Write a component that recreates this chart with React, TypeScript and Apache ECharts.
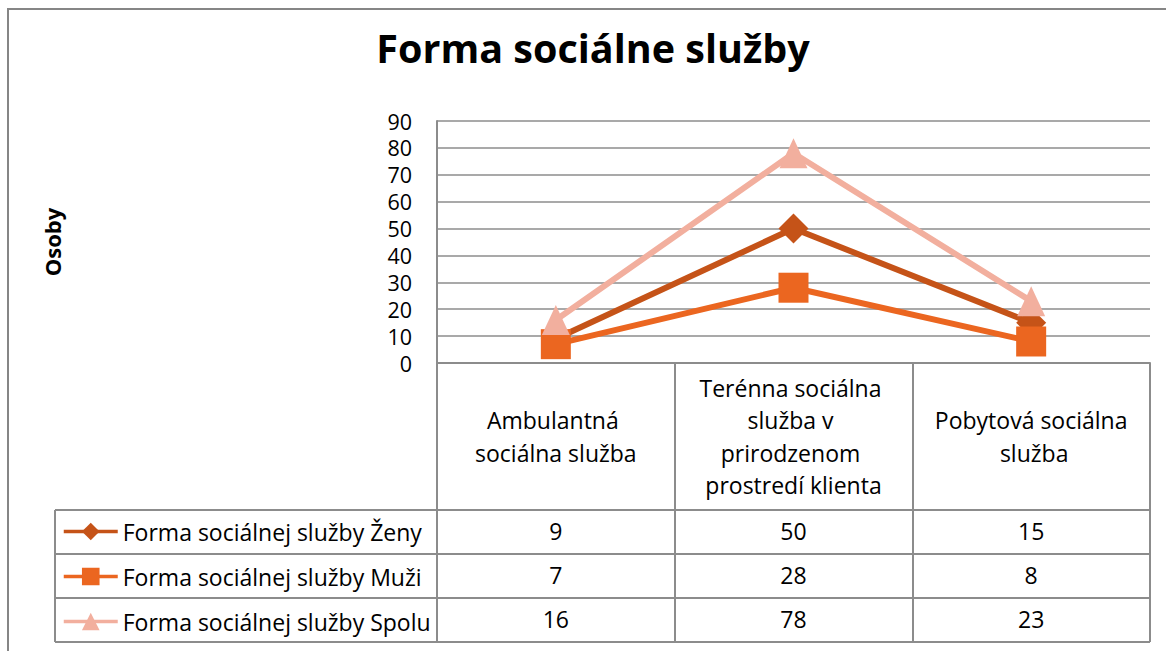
import React, { useEffect, useRef } from "react";
import * as echarts from "echarts";

const chartTitle = "Forma sociálne služby";
const yAxisTitle = "Osoby";
const categories = [
  "Ambulantná sociálna služba",
  "Terénna sociálna služba v prirodzenom prostredí klienta",
  "Pobytová sociálna služba",
];
const seriesNames = [
  "Forma sociálnej služby Ženy",
  "Forma sociálnej služby Muži",
  "Forma sociálnej služby Spolu",
];
const zeny = [9, 50, 15];
const muzi = [7, 28, 8];
const spolu = [16, 78, 23];
const yMin = 0;
const yMax = 90;
const yInterval = 10;

const FONT = "'Open Sans'";
const GRID = "#8c8c8c";
const colors = ["#C55318", "#EB6620", "#F2AF9E"];
const symbols = ["diamond", "rect", "triangle"];
const symbolSizes: any[] = [30, 30, [28, 30]];

// layout
const gridLeft = 437;
const gridTop = 121;
const gridWidth = 713;
const gridHeight = 242;
const tableLeft = 55;
const headerBottom = 510;
const rowH = 44;
const legendItemH = 22;
const TXT = 23;

export default function App() {
  const ref = useRef<HTMLDivElement>(null);
  useEffect(() => {
    const chart = echarts.init(ref.current!, null, { renderer: "svg" });
    const values = [zeny, muzi, spolu];
    const axisBottom = gridTop + gridHeight;
    const tableBottom = headerBottom + rowH * values.length;
    chart.setOption({
      animation: false,
      backgroundColor: "#ffffff",
      textStyle: { fontFamily: FONT },
      grid: { left: gridLeft, top: gridTop, width: gridWidth, height: gridHeight, containLabel: false },
      legend: {
        orient: "vertical",
        left: 62,
        top: headerBottom + rowH / 2 - legendItemH / 2 - 1,
        padding: 0,
        itemWidth: 54,
        itemHeight: legendItemH,
        itemGap: rowH - legendItemH,
        data: seriesNames,
        textStyle: { fontFamily: FONT, fontSize: TXT, color: "#000" },
        lineStyle: { width: 3.5 },
      },
      xAxis: {
        type: "category",
        data: categories,
        boundaryGap: true,
        axisLine: { show: true, lineStyle: { color: GRID, width: 2 } },
        axisTick: {
          show: true,
          interval: 0,
          length: tableBottom - axisBottom,
          lineStyle: { color: GRID, width: 2 },
        },
        axisLabel: {
          show: true,
          interval: 0,
          margin: (headerBottom - axisBottom) / 2,
          verticalAlign: "middle",
          align: "center",
          lineHeight: 32.5,
          width: 218,
          overflow: "break",
          fontFamily: FONT,
          fontSize: TXT,
          color: "#000",
        },
      },
      yAxis: {
        type: "value",
        min: yMin,
        max: yMax,
        interval: yInterval,
        name: yAxisTitle,
        nameLocation: "middle",
        nameRotate: 90,
        nameGap: gridLeft - 63,
        nameTextStyle: { fontFamily: FONT, fontSize: 22, fontWeight: "bold", color: "#000" },
        axisLine: { show: true, lineStyle: { color: GRID, width: 2 } },
        axisTick: { show: false },
        splitLine: { show: true, lineStyle: { color: GRID, width: 1.5 } },
        axisLabel: { fontFamily: FONT, fontSize: 21.5, lineHeight: 24, color: "#000", margin: 25 },
      },
      series: values.map((v, i) => ({
        name: seriesNames[i],
        type: "line",
        data: v,
        symbol: symbols[i],
        symbolSize: symbolSizes[i],
        showAllSymbol: true,
        lineStyle: { color: colors[i], width: 6 },
        itemStyle: { color: colors[i] },
        emphasis: { disabled: true },
      })),
    });

    const xs = categories.map((_, i) => chart.convertToPixel({ xAxisIndex: 0 }, i) as number);
    const right = gridLeft + gridWidth;
    const graphic: any[] = [
      {
        type: "rect",
        shape: { x: 8, y: 9, width: 1250, height: 750 },
        style: { fill: "none", stroke: "#868686", lineWidth: 2 },
        silent: true,
      },
      {
        type: "text",
        x: 593,
        y: 48,
        style: {
          text: chartTitle,
          fontFamily: FONT,
          fontSize: 39.5,
          fontWeight: "bold",
          fill: "#000",
          textAlign: "center",
          textVerticalAlign: "middle",
        },
      },
      {
        type: "line",
        shape: { x1: tableLeft, y1: headerBottom, x2: tableLeft, y2: tableBottom },
        style: { stroke: GRID, lineWidth: 2 },
      },
    ];
    for (let r = 0; r <= values.length; r++) {
      const y = headerBottom + r * rowH;
      graphic.push({
        type: "line",
        shape: { x1: tableLeft, y1: y, x2: right, y2: y },
        style: { stroke: GRID, lineWidth: 2 },
      });
    }
    values.forEach((row, r) => {
      row.forEach((val, i) => {
        graphic.push({
          type: "text",
          x: xs[i],
          y: headerBottom + rowH * (r + 0.5) - 1,
          style: {
            text: String(val),
            fontFamily: FONT,
            fontSize: TXT,
            fill: "#000",
            textAlign: "center",
            textVerticalAlign: "middle",
          },
        });
      });
    });
    chart.setOption({ graphic });
    return () => chart.dispose();
  }, []);
  return (
    <div
      ref={ref}
      style={{ position: "absolute", left: 0, top: 0, width: 1166, height: 651 }}
    />
  );
}
